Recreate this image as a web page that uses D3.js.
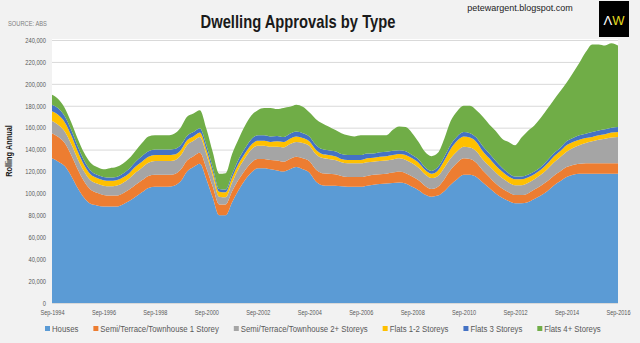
<!DOCTYPE html>
<html>
<head>
<meta charset="utf-8">
<script src="https://cdn.jsdelivr.net/npm/d3@7"></script>
<style>
  html, body { margin: 0; padding: 0; background: #f2f2f2; }
  svg { display: block; }
  text { font-family: "Liberation Sans", Arial, sans-serif; }
</style>
</head>
<body>
<svg id="chart" width="640" height="343"></svg>
<script>
// Rolling annual dwelling approvals, quarterly from Sep-1994 to Sep-2016 (thousands)
const seriesNames = [
  "Houses",
  "Semi/Terrace/Townhouse 1 Storey",
  "Semi/Terrace/Townhouse 2+ Storeys",
  "Flats 1-2 Storeys",
  "Flats 3 Storeys",
  "Flats 4+ Storeys"
];
const seriesColors = ["#5b9bd5", "#ed7d31", "#a5a5a5", "#ffc000", "#4472c4", "#70ad47"];

const houses = [
  132,129,125,116,105,96,90.5,89,88,88,
  88,90,93,97,101,105,106,106,106,107,
  111,120,124,127,113,96,80,80,92,103,
  112,119,123,123,122,121,120,122,124,122,
  119,111,107.5,107,107,106.5,106,106,106,107,
  108,108.5,109,109.5,110,109,106,103,99,97,
  98,102,108,113,117,117,115,110,105,100,
  96,93,91,91,92,95,98,102,107,111,
  115,117,118,118,118,118,118,118,118
];
const semi1 = [
  23,22.5,21,19,17,15,13,11.5,10.5,10,
  10,10,10.5,11,11,11,11,11,11,10.5,
  10.5,10,10,10,10,10,10,10,10,9.5,
  9,9,8.5,8.5,8.5,9,9,9.5,9.5,10,
  10.5,11,11,11,10.5,9.5,9,9,9,9,
  9,9,9,9.5,10,9.5,9.5,9,8,7,
  8,11,13.5,15,15,14.5,13,11,10,9,
  8.5,8,7.5,7.5,8,8.5,9,9,9,9,
  9,9,9,9.5,9.5,9.5,9.5,9.5,9.5
];
const semi2 = [
  11,11,10.5,10,9.5,9,8.5,8.5,8.5,8.5,
  9,9.5,10,11,11.5,12,12.5,12.5,12.5,12.5,
  13,14,14,14.5,13,10,7,6.5,8,10,
  11,12,12,12,12,12.5,13,13.5,13.5,14,
  14,14,14,13.5,13,12.5,12.5,12.5,12.5,12.5,
  12,12,12,12,12,12,12,11.5,10.5,10,
  10,10.5,10.5,10.5,10.5,10.5,10.5,10,10,10,
  9.5,9,9,9,9.5,9.5,10,11,12,13,
  14,15.5,17,18.5,20,21.5,22.5,23.5,24
];
const flats12 = [
  9,9,8.5,8,7,6,5.5,5,5,5,
  5,5,5,5.5,5.5,5.5,5.5,5.5,5.5,5.5,
  5,4.5,4,4,4,4,4.5,4.5,4.5,4.5,
  4.5,4.5,4.5,4.5,4.5,5,5,5,5,4.5,
  4,4,3.5,3.5,3.5,3,3,3,3,3.5,
  3.5,4,4,4,4,4.5,4.5,4.5,4,4,
  5,6.5,8.5,9.5,9.5,9,8.5,7.5,7,6.5,
  6,5.5,5.5,5.5,5,4.5,4.5,5,5.5,5.5,
  6,5.5,5,4.5,4,4,4,4.5,4.5
];
const flats3 = [
  6,6,5.5,5,4.5,4,3.5,3,3,3,
  3,3.5,4,4.5,5,5,5,5,5,5,
  4.5,4,4,4,4,3.5,2.5,2.5,3,4,
  4.5,5,5,5,5,5,4.5,4.5,4.5,4.5,
  4.5,4.5,4.5,4.5,4.5,4.5,4.5,4.5,4.5,4.5,
  4,4,4,4,3.5,3.5,3,3,2.5,2.5,
  3,3.5,4,4,4,4,4,4.5,4.5,4,
  3.5,3,2.5,2.5,2.5,2.5,2.5,3,3,3,
  3.5,3.5,4,4,4.5,4.5,4.5,4.5,4.5
];
const flats4 = [
  9,8.5,7.5,7,7,7,7,7,7,8.5,
  9,9,9.5,10,12,13.5,13,13,13,14,
  16,17.5,17,16.5,15,14,14,15,18.5,18.5,
  20.5,21.5,23,25,26,24.5,26.5,24.5,24.5,24,
  22,23.5,23.5,21.5,19.5,19,18,17,18,16.5,
  16.5,15.5,15,19,21.5,22,20,16,14,13.5,
  13,16.5,21.5,23,24,25,25,27,26.5,27.5,
  26.5,28.5,28.5,35.5,40,42,45,47,48.5,51.5,
  53.5,59.5,66,74.5,80,78.5,76.5,77,74.5
];

const yTicks = [0, 20, 40, 60, 80, 100, 120, 140, 160, 180, 200, 220, 240];
const yTickLabels = ["0", "20,000", "40,000", "60,000", "80,000", "100,000", "120,000",
  "140,000", "160,000", "180,000", "200,000", "220,000", "240,000"];
const xTickLabels = ["Sep-1994", "Sep-1996", "Sep-1998", "Sep-2000", "Sep-2002", "Sep-2004",
  "Sep-2006", "Sep-2008", "Sep-2010", "Sep-2012", "Sep-2014", "Sep-2016"];

// Quarter-end months for each observation
const quarters = d3.timeMonth.range(new Date(1994, 8, 1), new Date(2016, 9, 1), 3);
const parseTick = d3.timeParse("%b-%Y");
const xTickDates = xTickLabels.map(parseTick);

const seriesArrays = [houses, semi1, semi2, flats12, flats3, flats4];
const table = quarters.map((date, i) => {
  const row = { date };
  seriesNames.forEach((name, k) => { row[name] = seriesArrays[k][i]; });
  return row;
});

const W = 640, H = 343;
const plot = { left: 52, right: 618, top: 40, bottom: 303 };
const NARROW = 0.82;   // horizontal squeeze giving a condensed face

const svg = d3.select("#chart");
svg.append("rect").attr("width", W).attr("height", H).attr("fill", "#f2f2f2");

const x = d3.scaleTime().domain(d3.extent(quarters)).range([plot.left, plot.right]);
const y = d3.scaleLinear().domain([0, 240]).range([plot.bottom, plot.top]);

// condensed text placed at (px, py)
function narrowText(parent, px, py, str) {
  return parent.append("text")
    .attr("transform", `translate(${px},${py}) scale(${NARROW},1)`)
    .text(str);
}

// plot area
svg.append("rect")
  .attr("x", plot.left).attr("y", plot.top - 1)
  .attr("width", plot.right - plot.left).attr("height", plot.bottom - plot.top + 1)
  .attr("fill", "#ffffff");

// horizontal gridlines
svg.append("g")
  .attr("transform", `translate(${plot.left},0)`)
  .call(d3.axisLeft(y).tickValues(yTicks).tickSize(-(plot.right - plot.left)).tickFormat(""))
  .call(g => g.select(".domain").remove())
  .call(g => g.selectAll("line").attr("stroke", "#d9d9d9").attr("stroke-width", 1));

// stacked areas
const stack = d3.stack().keys(seriesNames);
const layers = stack(table);
const area = d3.area()
  .x(d => x(d.data.date))
  .y0(d => y(d[0]))
  .y1(d => y(d[1]))
  .curve(d3.curveMonotoneX);

svg.append("g").selectAll("path")
  .data(layers)
  .join("path")
  .attr("d", area)
  .attr("fill", (d, i) => seriesColors[i]);

// y axis labels
svg.append("g")
  .attr("transform", `translate(${plot.left},0)`)
  .call(d3.axisLeft(y).tickValues(yTicks).tickSize(0).tickPadding(6)
    .tickFormat((d, i) => yTickLabels[i]))
  .call(g => g.select(".domain").remove())
  .call(g => g.selectAll("text")
    .attr("x", -6 / NARROW)
    .attr("transform", `scale(${NARROW},1)`)
    .attr("fill", "#595959")
    .style("font-size", "7px")
    .style("font-family", null));

// x axis labels
svg.append("g")
  .attr("transform", `translate(0,${plot.bottom})`)
  .call(d3.axisBottom(x).tickValues(xTickDates).tickSize(0).tickPadding(7)
    .tickFormat((d, i) => xTickLabels[i]))
  .call(g => g.select(".domain").remove())
  .call(g => g.selectAll("text")
    .attr("transform", `scale(${NARROW},1)`)
    .attr("fill", "#595959")
    .style("font-size", "6.8px")
    .style("font-family", null));

// titles
narrowText(svg, 298, 28, "Dwelling Approvals by Type")
  .attr("text-anchor", "middle")
  .attr("fill", "#1a1a1a")
  .style("font-size", "18px").style("font-weight", "bold");

narrowText(svg, 8, 26, "SOURCE: ABS")
  .attr("fill", "#7f7f7f")
  .style("font-size", "7px");

svg.append("text")
  .attr("x", 520).attr("y", 11)
  .attr("text-anchor", "middle")
  .attr("fill", "#222222")
  .style("font-size", "9px")
  .text("petewargent.blogspot.com");

// logo badge
const logo = svg.append("g");
logo.append("rect").attr("x", 599).attr("y", 1).attr("width", 30).attr("height", 36).attr("fill", "#000000");
const logoText = logo.append("text")
  .attr("x", 614).attr("y", 25)
  .attr("text-anchor", "middle")
  .style("font-size", "13px");
logoText.append("tspan").attr("fill", "#ffffff").text("Λ");
logoText.append("tspan").attr("fill", "#e6dc1e").text("W");

// y axis title
svg.append("text")
  .attr("transform", `translate(12,151) rotate(-90) scale(${NARROW},1)`)
  .attr("text-anchor", "middle")
  .attr("fill", "#1a1a1a")
  .style("font-size", "9px").style("font-weight", "bold")
  .text("Rolling Annual");

// legend
const legend = svg.append("g").attr("transform", "translate(0,329)");
let lx = 45;
seriesNames.forEach((name, i) => {
  const item = legend.append("g").attr("transform", `translate(${lx},0)`);
  item.append("rect").attr("x", 0).attr("y", -3).attr("width", 5).attr("height", 5)
    .attr("fill", seriesColors[i]);
  const t = narrowText(item, 7, 2.8, name)
    .attr("fill", "#595959")
    .style("font-size", "9.5px");
  lx += 7 + t.node().getComputedTextLength() * NARROW + 15;
});
</script>
</body>
</html>
